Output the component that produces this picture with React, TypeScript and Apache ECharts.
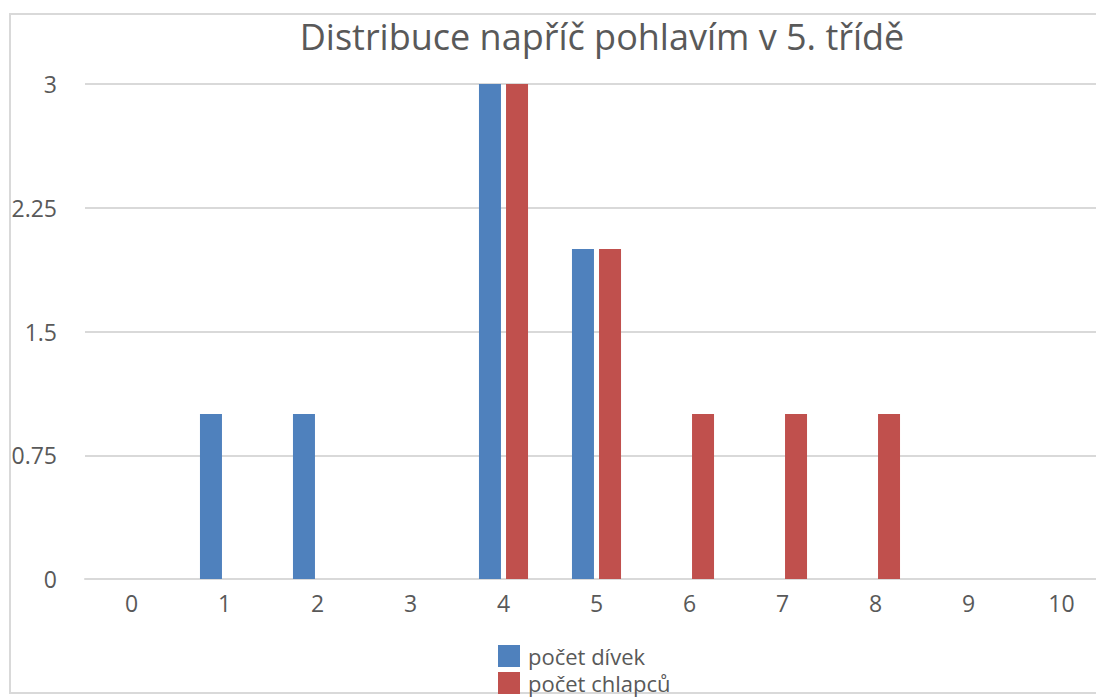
import React, { useEffect, useRef } from "react";
import * as echarts from "echarts";

const categories = ["0", "1", "2", "3", "4", "5", "6", "7", "8", "9", "10"];
const girls = [0, 1, 1, 0, 3, 2, 0, 0, 0, 0, 0];
const boys = [0, 0, 0, 0, 3, 2, 1, 1, 1, 0, 0];
const seriesNames = ["počet dívek", "počet chlapců"];
const titleText = "Distribuce napříč pohlavím v 5. třídě";

const FONT = "'Open Sans', 'Noto Sans', sans-serif";

export default function App() {
  const ref = useRef<HTMLDivElement>(null);
  useEffect(() => {
    if (!ref.current) return;
    const chart = echarts.init(ref.current, null, { renderer: "svg" });
    chart.setOption({
      animation: false,
      backgroundColor: "#ffffff",
      title: {
        text: titleText,
        left: 597,
        textAlign: "center",
        top: 13,
        textStyle: { fontFamily: FONT, fontSize: 36, fontWeight: "normal", color: "#595959" },
      },
      graphic: [
        {
          type: "rect",
          shape: { x: 10, y: 14, width: 1120, height: 679 },
          style: { fill: "none", stroke: "#d9d9d9", lineWidth: 2 },
          z: -1,
        },
      ],
      legend: {
        orient: "vertical",
        left: 498,
        top: 645,
        itemWidth: 22,
        itemHeight: 22,
        itemGap: 5,
        icon: "rect",
        textStyle: {
          fontFamily: FONT,
          fontSize: 22,
          lineHeight: 22,
          color: "#595959",
          padding: [0, 0, 0, 3],
        },
        padding: 0,
      },
      grid: { left: 85, top: 84, width: 1023, height: 495 },
      xAxis: {
        type: "category",
        data: categories,
        axisLine: { lineStyle: { color: "#d9d9d9", width: 2 } },
        axisTick: { show: false },
        axisLabel: { fontFamily: FONT, fontSize: 23, color: "#595959", margin: 12 },
      },
      yAxis: {
        type: "value",
        min: 0,
        max: 3,
        interval: 0.75,
        axisLine: { show: false },
        axisTick: { show: false },
        splitLine: { lineStyle: { color: "#d9d9d9", width: 2 } },
        axisLabel: { fontFamily: FONT, fontSize: 23, color: "#595959", margin: 28 },
      },
      series: [
        {
          name: seriesNames[0],
          type: "bar",
          data: girls,
          barWidth: 22,
          barGap: "23%",
          itemStyle: { color: "#4f81bd" },
        },
        {
          name: seriesNames[1],
          type: "bar",
          data: boys,
          barWidth: 22,
          barGap: "23%",
          itemStyle: { color: "#c0504d" },
        },
      ],
    });
    return () => chart.dispose();
  }, []);
  return (
    <div
      ref={ref}
      style={{ position: "fixed", left: 0, top: 0, width: 1120, height: 697 }}
    />
  );
}
